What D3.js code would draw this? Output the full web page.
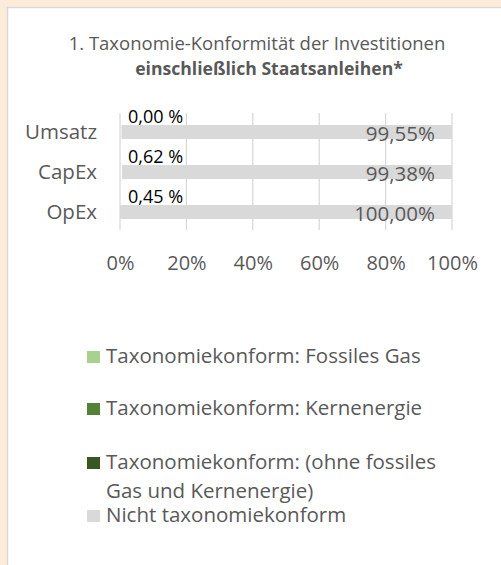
<!DOCTYPE html>
<html><head><meta charset="utf-8">
<script src="https://cdn.jsdelivr.net/npm/d3@7"></script>
<style>
html,body{margin:0;padding:0;background:#fdebd9;}
svg{display:block;font-family:"Open Sans",sans-serif;}
</style></head><body>
<svg id="c" width="501" height="565"></svg>
<script>
const categories = ["Umsatz","CapEx","OpEx"];
const conformLabels = ["0,00 %","0,62 %","0,45 %"];
const fossilGas = [0,0,0];
const nuclear = [0,0,0];
const otherConform = [0,0,0];
const notConform = [99.55,99.38,100.00];
const notConformLabels = ["99,55%","99,38%","100,00%"];
const ticks = [0,20,40,60,80,100];
const legendNames = [
  ["Taxonomiekonform: Fossiles Gas"],
  ["Taxonomiekonform: Kernenergie"],
  ["Taxonomiekonform: (ohne fossiles","Gas und Kernenergie)"],
  ["Nicht taxonomiekonform"]
];
const legendColors = ["#a9d18e","#548235","#375623","#d9d9d9"];

const svg = d3.select("#c");
svg.append("rect").attr("x",0).attr("y",0).attr("width",501).attr("height",565).attr("fill","#fdebd9");
svg.append("rect").attr("x",7.5).attr("y",7.5).attr("width",500).attr("height",570)
  .attr("fill","#fff").attr("stroke","#d9d9d9").attr("stroke-width",1.5);

const textCol = "#595959";
svg.append("text").attr("x",257).attr("y",50).attr("text-anchor","middle")
  .attr("fill",textCol).attr("font-size",18.5).text("1. Taxonomie-Konformität der Investitionen");
svg.append("text").attr("x",269).attr("y",75).attr("text-anchor","middle")
  .attr("fill",textCol).attr("font-size",17.6).attr("font-weight","bold").text("einschließlich Staatsanleihen*");

const x = d3.scaleLinear().domain([0,100]).range([120,452]);
const y = d3.scaleBand().domain(categories).range([112,232]).paddingInner(0.65).paddingOuter(0.325);

svg.append("g").selectAll("line").data(ticks).join("line")
  .attr("x1",d=>x(d)).attr("x2",d=>x(d)).attr("y1",113).attr("y2",230)
  .attr("stroke","#d9d9d9").attr("stroke-width",1.3);

const series = [
  {vals:fossilGas,color:legendColors[0]},
  {vals:nuclear,color:legendColors[1]},
  {vals:otherConform,color:legendColors[2]}
];
categories.forEach((c,i)=>{
  let acc=0;
  series.forEach(s=>{
    const v=s.vals[i];
    if(v>0){
      svg.append("rect").attr("x",x(acc)).attr("y",y(c)).attr("width",x(acc+v)-x(acc)).attr("height",y.bandwidth()).attr("fill",s.color);
    }
    acc+=v;
  });
});
svg.append("g").selectAll("rect").data(categories).join("rect")
  .attr("x",(d,i)=>x(100-notConform[i])).attr("width",(d,i)=>x(100)-x(100-notConform[i]))
  .attr("y",d=>y(d)).attr("height",y.bandwidth()).attr("fill",legendColors[3]);

svg.append("g").selectAll("text").data(categories).join("text")
  .attr("x",128).attr("y",d=>y(d)-2).attr("fill","#000").attr("font-size",18)
  .text((d,i)=>conformLabels[i]);
svg.append("g").selectAll("text").data(categories).join("text")
  .attr("x",435).attr("y",d=>y(d)+y.bandwidth()/2+9).attr("text-anchor","end")
  .attr("fill",textCol).attr("font-size",20.5).text((d,i)=>notConformLabels[i]);

const yAxis = d3.axisLeft(y).tickSize(0).tickPadding(0);
const ya = svg.append("g").attr("transform","translate(97,0)").call(yAxis);
ya.select(".domain").remove();
ya.selectAll("text").attr("fill",textCol).attr("font-size",20.5).attr("font-family","Open Sans").attr("dy","0.35em");

const xAxis = d3.axisBottom(x).tickValues(ticks).tickFormat(d=>d+"%").tickSize(0).tickPadding(0);
const xa = svg.append("g").attr("transform","translate(0,256)").call(xAxis);
xa.select(".domain").remove();
xa.selectAll("text").attr("fill",textCol).attr("font-size",20).attr("font-family","Open Sans");

const lyBase = [363,415,469,522];
legendNames.forEach((names,i)=>{
  svg.append("rect").attr("x",87).attr("y",lyBase[i]-12).attr("width",13).attr("height",12).attr("fill",legendColors[i]);
  names.forEach((n,j)=>{
    svg.append("text").attr("x",106).attr("y",lyBase[i]+j*29).attr("fill",textCol).attr("font-size",20.5).text(n);
  });
});
</script></body></html>
